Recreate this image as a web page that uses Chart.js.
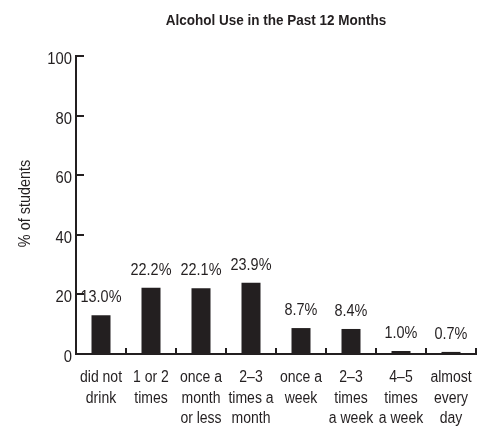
<!DOCTYPE html>
<html><head><meta charset="utf-8">
<script src="https://cdn.jsdelivr.net/npm/chart.js@4"></script>
<style>html,body{margin:0;padding:0;background:#fff;}#wrap{width:477px;height:428px;}</style>
</head><body><div id="wrap"><canvas id="c" width="477" height="428"></canvas></div>
<script>
const categories = [
  ["did not","drink"],
  ["1 or 2","times"],
  ["once a","month","or less"],
  ["2\u20133","times a","month"],
  ["once a","week"],
  ["2\u20133","times","a week"],
  ["4\u20135","times","a week"],
  ["almost","every","day"]
];
const values = [13.0, 22.2, 22.1, 23.9, 8.7, 8.4, 1.0, 0.7];
const valueLabels = ["13.0%","22.2%","22.1%","23.9%","8.7%","8.4%","1.0%","0.7%"];
const yTicks = [0, 20, 40, 60, 80, 100];
const chartTitle = "Alcohol Use in the Past 12 Months";
const yTitle = "% of students";

const FONT = "'Liberation Sans','Arimo',Arial,sans-serif";
const INK = '#231f20';

function narrowText(ctx, text, x, y, align, sx, rot) {
  ctx.save();
  ctx.translate(x, y);
  if (rot) ctx.rotate(rot);
  ctx.scale(sx, 1);
  ctx.textAlign = align;
  ctx.fillText(text, 0, 0);
  ctx.restore();
}

const decor = {
  id: 'decor',
  afterDraw(chart) {
    const ctx = chart.ctx, ca = chart.chartArea;
    const xs = chart.scales.x, ys = chart.scales.y;
    const step = xs.getPixelForValue(1) - xs.getPixelForValue(0);
    ctx.save();
    ctx.strokeStyle = INK; ctx.lineWidth = 2;
    ctx.fillStyle = INK;
    ctx.textBaseline = 'alphabetic';
    // y tick marks (inward) and labels
    ctx.font = "17px " + FONT;
    yTicks.forEach(v => {
      const y = Math.round(ys.getPixelForValue(v));
      ctx.beginPath(); ctx.moveTo(ca.left, y); ctx.lineTo(ca.left + 8, y); ctx.stroke();
      narrowText(ctx, String(v), ca.left - 4, y + 8, 'right', 0.87);
    });
    // x boundary ticks (upward) and category labels
    ctx.font = "16px " + FONT;
    categories.forEach((lines, i) => {
      const cx = xs.getPixelForValue(i);
      const x = Math.round(cx + step / 2);
      ctx.beginPath(); ctx.moveTo(x, ca.bottom); ctx.lineTo(x, ca.bottom - 6); ctx.stroke();
      lines.forEach((t, k) => narrowText(ctx, t, cx, ca.bottom + 28 + k * 20.5, 'center', 0.875));
    });
    // value labels
    ctx.font = "16.5px " + FONT;
    const meta = chart.getDatasetMeta(0);
    meta.data.forEach((bar, i) => {
      narrowText(ctx, valueLabels[i], bar.x, bar.y - 13, 'center', 0.875);
    });
    // y title
    ctx.font = "16px " + FONT;
    narrowText(ctx, yTitle, 30, (ca.top + ca.bottom) / 2 - 1.5, 'center', 0.9, -Math.PI / 2);
    // title
    ctx.font = "bold 15px " + FONT;
    narrowText(ctx, chartTitle, (ca.left + ca.right) / 2, 25, 'center', 0.9);
    ctx.restore();
  }
};

new Chart(document.getElementById('c'), {
  type: 'bar',
  data: {
    labels: categories,
    datasets: [{ data: values, backgroundColor: INK, borderWidth: 0,
      categoryPercentage: 1, barPercentage: 0.38 }]
  },
  options: {
    responsive: false, animation: false,
    layout: { padding: { top: 56, right: 1, left: 0, bottom: 0 } },
    plugins: { legend: { display: false }, tooltip: { enabled: false }, title: { display: false } },
    scales: {
      x: {
        grid: { display: false, drawTicks: false },
        border: { display: true, color: INK, width: 2 },
        ticks: { display: false },
        afterFit(s) { s.height = 74; }
      },
      y: {
        min: 0, max: 100,
        afterBuildTicks(s) { s.ticks = yTicks.map(v => ({ value: v })); },
        grid: { display: false, drawTicks: false },
        border: { display: true, color: INK, width: 2 },
        ticks: { display: false },
        afterFit(s) { s.width = 76; }
      }
    }
  },
  plugins: [decor]
});
</script></body></html>
